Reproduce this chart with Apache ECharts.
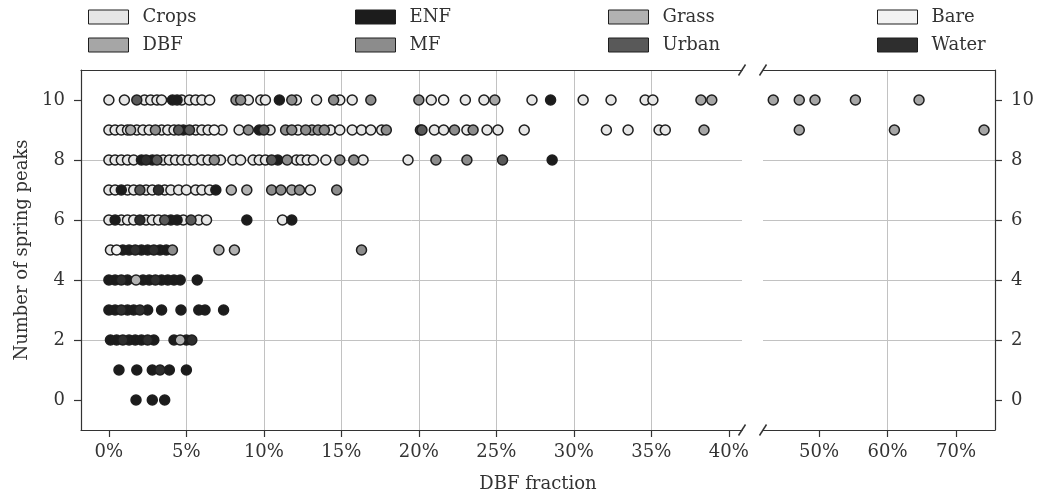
<!DOCTYPE html>
<html>
<head>
<meta charset="utf-8">
<script src="https://cdn.jsdelivr.net/npm/echarts@6/dist/echarts.min.js"></script>
<style>
  html, body { margin: 0; padding: 0; background: #ffffff; }
  #chart { width: 1040px; height: 499px; }
</style>
</head>
<body>
<div id="chart"></div>
<script>
// Land-cover classes in drawing order (legend reads column by column)
const classNames = ['Crops', 'DBF', 'ENF', 'MF', 'Grass', 'Urban', 'Bare', 'Water'];

// Sites as [DBF fraction (%), number of spring peaks]
const crops = [
  [0.0,10],[1.0,10],[2.3,10],[2.7,10],[3.1,10],[3.4,10],[4.7,10],[5.2,10],[5.6,10],[6.0,10],
  [9.0,10],[9.8,10],[10.1,10],[12.1,10],[13.4,10],[14.9,10],[15.7,10],[20.8,10],[23.0,10],
  [24.2,10],[27.3,10],[30.6,10],[32.4,10],[34.6,10],[35.1,10],
  [0.0,9],[0.4,9],[0.8,9],[1.2,9],[1.8,9],[2.2,9],[2.6,9],[3.4,9],[3.8,9],[4.2,9],[5.6,9],
  [6.0,9],[6.4,9],[7.3,9],[8.4,9],[10.4,9],[12.2,9],[14.3,9],[14.9,9],[15.7,9],[16.3,9],
  [16.9,9],[17.6,9],[21.0,9],[21.6,9],[23.1,9],[24.4,9],[25.1,9],[26.8,9],[32.1,9],[33.5,9],
  [35.5,9],[35.9,9],
  [0.0,8],[0.4,8],[0.8,8],[1.2,8],[1.6,8],[3.5,8],[3.9,8],[4.3,8],[4.7,8],[5.1,8],[5.5,8],
  [6.0,8],[6.4,8],[7.2,8],[8.0,8],[8.5,8],[9.3,8],[9.7,8],[10.1,8],[12.1,8],[12.4,8],[12.8,8],
  [13.2,8],[14.0,8],[16.4,8],[19.3,8],
  [0.0,7],[0.4,7],[1.2,7],[1.6,7],[2.4,7],[2.8,7],[3.6,7],[4.0,7],[4.5,7],[5.0,7],[5.6,7],
  [6.0,7],[6.5,7],[13.0,7],
  [0.0,6],[0.8,6],[1.2,6],[1.6,6],[2.4,6],[2.8,6],[3.2,6],[4.8,6],[5.8,6],[6.3,6],[11.2,6],
  [0.1,5]
];
const dbf = [
  [24.9,10],[38.2,10],[38.9,10],[43.3,10],[47.1,10],[49.4,10],[55.3,10],[64.6,10],
  [1.4,9],[13.1,9],[38.4,9],[47.1,9],[61.0,9],[74.1,9],
  [11.8,7]
];
const enf = [
  [4.1,10],[4.4,10],[11.0,10],[28.5,10],
  [4.8,9],[9.7,9],
  [2.1,8],[2.8,8],[10.9,8],[28.6,8],
  [0.8,7],[6.9,7],
  [0.4,6],[4.0,6],[4.4,6],[8.9,6],[11.8,6],
  [0.9,5],[1.3,5],[2.1,5],[2.5,5],[3.3,5],[3.7,5],
  [0.0,4],[0.4,4],[1.2,4],[2.2,4],[2.6,4],[3.4,4],[3.8,4],[4.2,4],[4.6,4],[5.7,4],
  [0.0,3],[0.4,3],[1.2,3],[1.6,3],[2.5,3],[3.4,3],[4.65,3],[5.8,3],[6.2,3],[7.4,3],
  [0.1,2],[0.5,2],[1.3,2],[1.7,2],[2.1,2],[2.9,2],[4.2,2],[5.0,2],
  [0.65,1],[1.8,1],[2.8,1],[3.9,1],[5.0,1],
  [1.75,0],[2.8,0],[3.6,0]
];
const mf = [
  [8.2,10],[8.5,10],[11.8,10],[14.5,10],[16.9,10],[20.0,10],
  [3.0,9],[9.0,9],[11.4,9],[11.8,9],[12.7,9],[13.5,9],[13.9,9],[17.9,9],[22.3,9],[23.5,9],
  [6.8,8],[11.5,8],[14.9,8],[15.8,8],[21.1,8],[23.1,8],
  [10.5,7],[11.1,7],[12.3,7],[14.7,7],
  [4.1,5],[16.3,5]
];
const grass = [
  [7.9,7],[8.9,7],[7.1,5],[8.1,5],[1.75,4],[4.6,2]
];
const urban = [
  [1.8,10],[4.5,9],[5.2,9],[10.0,9],[20.1,9],[20.2,9],
  [3.1,8],[10.5,8],[25.4,8],[2.0,7],[3.6,6],[5.3,6]
];
const bare = [
  [6.5,10],[21.6,10],[6.8,9],[0.5,5]
];
const water = [
  [2.4,8],[3.2,7],[2.0,6],[1.7,5],[2.9,5],[0.8,4],[3.0,4],[0.8,3],[2.0,3],
  [0.9,2],[2.5,2],[5.35,2],[3.3,1]
];

// Tick labels
const leftTicks = [0, 5, 10, 15, 20, 25, 30, 35, 40];
const rightTicks = [50, 60, 70];
const yTicks = [0, 2, 4, 6, 8, 10];

// Broken x axis: two value ranges side by side
const leftRange = [-1.8, 40.85];
const rightRange = [41.8, 75.7];
const yRange = [-1, 11];

const classData = [crops, dbf, enf, mf, grass, urban, bare, water];
const classColors = ['#e6e6e6', '#a6a6a6', '#1c1c1c', '#8c8c8c', '#b2b2b2', '#595959', '#f2f2f2', '#2e2e2e'];

const FONT = 'DejaVu Serif';
const INK = '#333333';
const spine = { show: true, onZero: false, lineStyle: { color: INK, width: 1.2 } };
const grid = { show: true, lineStyle: { color: '#c2c2c2', width: 1 } };

function pctLabel(ticks) {
  return v => (ticks.indexOf(Math.round(v * 1000) / 1000) >= 0 ? v + '%' : '');
}
function numLabel(ticks) {
  return v => (ticks.indexOf(Math.round(v * 1000) / 1000) >= 0 ? String(v) : '');
}

const series = [];
classNames.forEach((name, i) => {
  const style = { color: classColors[i], borderColor: '#1e1e1e', borderWidth: 1.5, opacity: 1 };
  const leftPts = classData[i].filter(p => p[0] <= leftRange[1]);
  const rightPts = classData[i].filter(p => p[0] >= rightRange[0]);
  series.push({
    name, type: 'scatter', xAxisIndex: 0, yAxisIndex: 0, data: leftPts,
    symbol: 'circle', symbolSize: 10, itemStyle: style, z: 2 + i * 0.01, emphasis: { disabled: true }
  });
  series.push({
    name, type: 'scatter', xAxisIndex: 2, yAxisIndex: 1, data: rightPts,
    symbol: 'circle', symbolSize: 10, itemStyle: style, z: 2 + i * 0.01, emphasis: { disabled: true }
  });
});

// Legend: four columns of two entries
const legendCols = [[0, 1], [2, 3], [4, 5], [6, 7]];
const legendLeft = [88, 355, 608, 877];
const legend = legendCols.map((col, k) => ({
  data: col.map(j => classNames[j]),
  orient: 'vertical',
  left: legendLeft[k],
  top: 8,
  padding: 0,
  icon: 'rect',
  itemWidth: 40,
  itemHeight: 14,
  itemGap: 10,
  selectedMode: false,
  itemStyle: { borderColor: '#1e1e1e', borderWidth: 1 },
  textStyle: { fontFamily: FONT, fontSize: 18, color: INK, lineHeight: 18, padding: [0, 0, 0, 9] }
}));

const chart = echarts.init(document.getElementById('chart'), null, { renderer: 'canvas' });

chart.setOption({
  animation: false,
  backgroundColor: '#ffffff',
  textStyle: { fontFamily: FONT },
  legend,
  grid: [
    { left: 81, top: 70, width: 661, height: 360, containLabel: false },
    { left: 763, top: 70, width: 232, height: 360, containLabel: false }
  ],
  xAxis: [
    {
      gridIndex: 0, type: 'value', position: 'bottom', min: leftRange[0], max: leftRange[1], splitNumber: 8,
      axisLine: spine,
      axisTick: { show: true, length: 7, customValues: leftTicks, lineStyle: { color: INK, width: 1.2 } },
      axisLabel: { customValues: leftTicks, formatter: pctLabel(leftTicks), margin: 13, fontSize: 18, color: INK, fontFamily: FONT },
      splitLine: Object.assign({ showMinLine: false, showMaxLine: false }, grid)
    },
    {
      gridIndex: 0, type: 'value', position: 'top', min: leftRange[0], max: leftRange[1], splitNumber: 8,
      axisLine: spine, axisTick: { show: false }, axisLabel: { show: false }, splitLine: { show: false }
    },
    {
      gridIndex: 1, type: 'value', position: 'bottom', min: rightRange[0], max: rightRange[1], splitNumber: 4,
      axisLine: spine,
      axisTick: { show: true, length: 7, customValues: rightTicks, lineStyle: { color: INK, width: 1.2 } },
      axisLabel: { customValues: rightTicks, formatter: pctLabel(rightTicks), margin: 13, fontSize: 18, color: INK, fontFamily: FONT },
      splitLine: Object.assign({ showMinLine: false, showMaxLine: false }, grid)
    },
    {
      gridIndex: 1, type: 'value', position: 'top', min: rightRange[0], max: rightRange[1], splitNumber: 4,
      axisLine: spine, axisTick: { show: false }, axisLabel: { show: false }, splitLine: { show: false }
    }
  ],
  yAxis: [
    {
      gridIndex: 0, type: 'value', position: 'left', min: yRange[0], max: yRange[1], splitNumber: 6,
      axisLine: spine,
      axisTick: { show: true, length: 7, customValues: yTicks, lineStyle: { color: INK, width: 1.2 } },
      axisLabel: { customValues: yTicks, formatter: numLabel(yTicks), margin: 16, fontSize: 18, color: INK, fontFamily: FONT },
      splitLine: Object.assign({ showMinLine: false, showMaxLine: false }, grid),
      name: 'Number of spring peaks', nameLocation: 'middle', nameGap: 50,
      nameTextStyle: { fontSize: 18, color: INK, fontFamily: FONT }
    },
    {
      gridIndex: 1, type: 'value', position: 'right', min: yRange[0], max: yRange[1], splitNumber: 6,
      axisLine: spine,
      axisTick: { show: true, length: 7, customValues: yTicks, lineStyle: { color: INK, width: 1.2 } },
      axisLabel: { customValues: yTicks, formatter: numLabel(yTicks), margin: 16, fontSize: 18, color: INK, fontFamily: FONT },
      splitLine: Object.assign({ showMinLine: false, showMaxLine: false }, grid)
    }
  ],
  series
});

// Diagonal break marks where the x axis is cut, plus the shared x-axis title
const xCutL = chart.convertToPixel({ xAxisIndex: 0 }, leftRange[1]);
const xCutR = chart.convertToPixel({ xAxisIndex: 2 }, rightRange[0]);
const yTop = chart.convertToPixel({ yAxisIndex: 0 }, yRange[1]);
const yBot = chart.convertToPixel({ yAxisIndex: 0 }, yRange[0]);
const xMid = (chart.convertToPixel({ xAxisIndex: 0 }, leftRange[0]) + chart.convertToPixel({ xAxisIndex: 2 }, rightRange[1])) / 2;

const breaks = [];
[xCutL, xCutR].forEach(x => {
  [yTop, yBot].forEach(y => {
    breaks.push({
      type: 'line', silent: true,
      shape: { x1: x - 3.5, y1: y + 5.5, x2: x + 3.5, y2: y - 5.5 },
      style: { stroke: INK, lineWidth: 1.5 }
    });
  });
});
breaks.push({
  type: 'text', silent: true, x: xMid, y: yBot + 54,
  style: { text: 'DBF fraction', fill: INK, font: '18px "DejaVu Serif"', align: 'center', verticalAlign: 'middle' }
});
chart.setOption({ graphic: breaks });
</script>
</body>
</html>
